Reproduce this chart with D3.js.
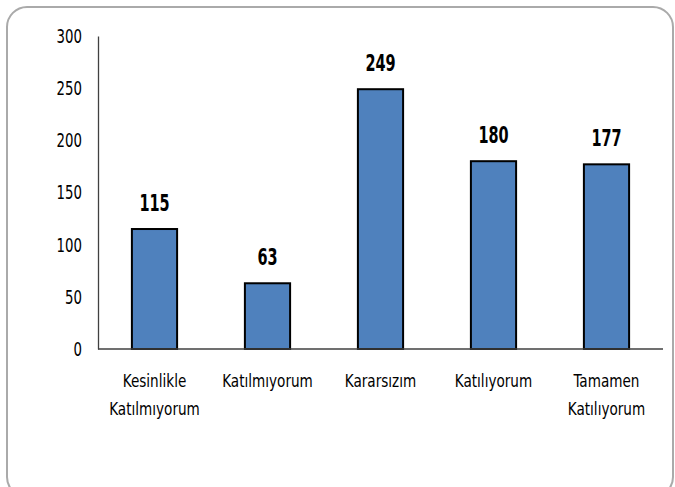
<!DOCTYPE html>
<html>
<head>
<meta charset="utf-8">
<script src="https://cdn.jsdelivr.net/npm/d3@7"></script>
<style>
  body { margin: 0; background: #fff; }
  svg text { font-family: "Liberation Sans Narrow", "DejaVu Sans Condensed", "Liberation Sans", sans-serif; fill: #000; }
</style>
</head>
<body>
<div id="chart"></div>
<script>
let width = 675;
let height = 487;

// data
let categories = [["Kesinlikle", "Katılmıyorum"], ["Katılmıyorum"], ["Kararsızım"], ["Katılıyorum"], ["Tamamen", "Katılıyorum"]];
let values = [115, 63, 249, 180, 177];
let yTicks = [0, 50, 100, 150, 200, 250, 300];

let margin = {left: 98, right: 12, top: 36, bottom: 138};
// the original text is tall and narrow
let squeeze = 0.74;

let svg = d3.select("#chart")
  .append("svg")
  .attr("width", width)
  .attr("height", height);

// rounded frame
svg.append("rect")
  .attr("x", 7)
  .attr("y", 7)
  .attr("width", 666)
  .attr("height", 490)
  .attr("rx", 20)
  .attr("fill", "#fff")
  .attr("stroke", "#aaaaaa")
  .attr("stroke-width", 2);

let x = d3.scaleBand()
  .domain(d3.range(values.length))
  .range([margin.left, width - margin.right])
  .paddingInner(0.6)
  .paddingOuter(0.3);

let y = d3.scaleLinear()
  .domain([0, 300])
  .range([height - margin.bottom, margin.top]);

// y axis
let yAxis = svg.append("g")
  .attr("transform", "translate(" + margin.left + ",0)")
  .call(d3.axisLeft(y).tickValues(yTicks).tickSize(0).tickPadding(16));
yAxis.select(".domain").attr("stroke", "#404040").attr("stroke-width", 1.3);
yAxis.selectAll("text")
  .attr("font-size", 20)
  .attr("x", -16 / squeeze)
  .attr("transform", "scale(" + squeeze + ",1)");

// bars
svg.append("g")
  .selectAll("rect")
  .data(values)
  .enter()
  .append("rect")
  .attr("x", function(d, i) { return x(i); })
  .attr("y", function(d) { return y(d); })
  .attr("width", x.bandwidth())
  .attr("height", function(d) { return y(0) - y(d); })
  .attr("fill", "#4f81bd")
  .attr("stroke", "#000")
  .attr("stroke-width", 2);

// value labels
svg.append("g")
  .selectAll("text")
  .data(values)
  .enter()
  .append("text")
  .attr("transform", function(d, i) {
    return "translate(" + (x(i) + x.bandwidth() / 2) + "," + (y(d) - 18) + ") scale(0.7,1)";
  })
  .attr("text-anchor", "middle")
  .attr("font-size", 23)
  .attr("font-weight", "bold")
  .text(function(d) { return d; });

// x axis line
svg.append("line")
  .attr("x1", margin.left)
  .attr("x2", width - margin.right)
  .attr("y1", y(0))
  .attr("y2", y(0))
  .attr("stroke", "#404040")
  .attr("stroke-width", 1.3);

// category labels
let catLabels = svg.append("g")
  .selectAll("text")
  .data(categories)
  .enter()
  .append("text")
  .attr("text-anchor", "middle")
  .attr("font-size", 18)
  .attr("transform", function(d, i) {
    return "translate(" + (x(i) + x.bandwidth() / 2) + "," + (y(0) + 38) + ") scale(0.84,1)";
  });

catLabels.selectAll("tspan")
  .data(function(d) { return d; })
  .enter()
  .append("tspan")
  .attr("x", 0)
  .attr("dy", function(d, i) { return i === 0 ? 0 : 28; })
  .text(function(d) { return d; });
</script>
</body>
</html>
